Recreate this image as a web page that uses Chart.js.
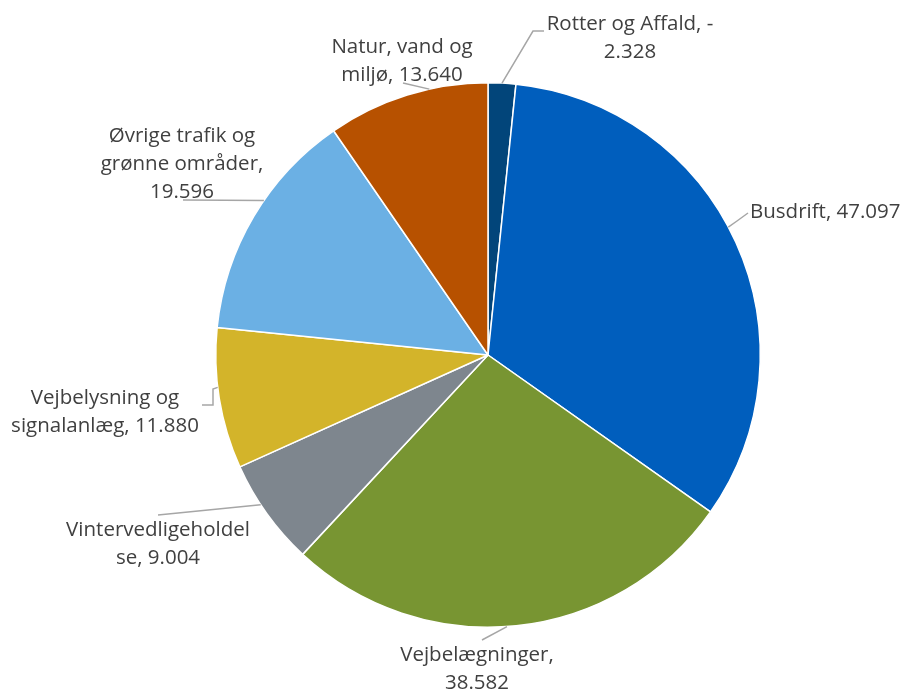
<!DOCTYPE html>
<html>
<head>
<meta charset="utf-8">
<script src="https://cdn.jsdelivr.net/npm/chart.js@4"></script>
<style>
  html, body { margin: 0; padding: 0; background: #fff; }
  #wrap { width: 904px; height: 695px; position: relative; }
</style>
</head>
<body>
<div id="wrap"><canvas id="pieChart"></canvas></div>
<script>
// ============================================================
// DATA
// ============================================================
const categories = ['Rotter og Affald', 'Busdrift', 'Vejbelægninger', 'Vintervedligeholdelse',
    'Vejbelysning og signalanlæg', 'Øvrige trafik og grønne områder', 'Natur, vand og miljø'];
const values = [-2328, 47097, 38582, 9004, 11880, 19596, 13640];
const colors = ['#02457a', '#005ebd', '#789532', '#7e868e', '#d3b42a', '#6bb0e4', '#b75100'];

// label placement (text x, first line y, line breaks, leader line points after the arc anchor)
const labelLayout = [
    { x: 630, y: 24, align: 'center', breaks: [19], anchor: 0.5, path: [[533, 31], [544, 31]] },
    { x: 750, y: 212, align: 'left', breaks: [], anchor: 0.47, path: [[737, 221], [748, 213]] },
    { x: 477, y: 655, align: 'center', breaks: [16], anchor: 0.52, path: [[482, 640]] },
    { x: 158, y: 530, align: 'center', breaks: [19], anchor: 0.6, path: [[158, 515]] },
    { x: 105, y: 398, align: 'center', breaks: [16], anchor: 0.58, path: [[213, 389], [213, 405], [202, 405]] },
    { x: 182, y: 136, align: 'center', breaks: [17, 33], anchor: 0.58, path: [[183, 200]] },
    { x: 402, y: 47, align: 'center', breaks: [15], anchor: 0.64, path: [[403, 83]] }
];
const LINE_H = 28;

function fmt(v) {
    const s = Math.abs(v).toString().replace(/\B(?=(\d{3})+(?!\d))/g, '.');
    return (v < 0 ? '-' : '') + s;
}

function labelLines(i) {
    const text = categories[i] + ', ' + fmt(values[i]);
    const cuts = [0, ...labelLayout[i].breaks, text.length];
    const out = [];
    for (let k = 0; k < cuts.length - 1; k++) out.push(text.slice(cuts[k], cuts[k + 1]).trim());
    return out;
}

// ============================================================
// LABEL PLUGIN
// ============================================================
const pieLabels = {
    id: 'pieLabels',
    afterDatasetsDraw(chart) {
        const ctx = chart.ctx;
        const meta = chart.getDatasetMeta(0);
        ctx.save();
        meta.data.forEach((arc, i) => {
            const L = labelLayout[i];
            const p = arc.getProps(['x', 'y', 'startAngle', 'endAngle', 'outerRadius'], true);
            const a = p.startAngle + (p.endAngle - p.startAngle) * L.anchor;
            const sx = p.x + Math.cos(a) * p.outerRadius;
            const sy = p.y + Math.sin(a) * p.outerRadius;
            ctx.beginPath();
            ctx.strokeStyle = '#a6a6a6';
            ctx.lineWidth = 1.5;
            ctx.moveTo(sx, sy);
            L.path.forEach(pt => ctx.lineTo(pt[0], pt[1]));
            ctx.stroke();

            ctx.fillStyle = '#404040';
            ctx.font = '20.5px "Open Sans", sans-serif';
            ctx.textAlign = L.align;
            ctx.textBaseline = 'middle';
            labelLines(i).forEach((ln, k) => ctx.fillText(ln, L.x, L.y + k * LINE_H));
        });
        ctx.restore();
    }
};

// ============================================================
// CHART
// ============================================================
const ctxPie = document.getElementById('pieChart').getContext('2d');
const pieChart = new Chart(ctxPie, {
    type: 'pie',
    data: {
        labels: categories,
        datasets: [{ data: values.map(v => Math.abs(v)), backgroundColor: colors, borderColor: '#ffffff', borderWidth: 1.5 }]
    },
    options: {
        responsive: true,
        maintainAspectRatio: false,
        animation: false,
        layout: { padding: { top: 82, bottom: 67, left: 215, right: 143 } },
        plugins: { legend: { display: false }, tooltip: { enabled: false } }
    },
    plugins: [pieLabels]
});
</script>
</body>
</html>
